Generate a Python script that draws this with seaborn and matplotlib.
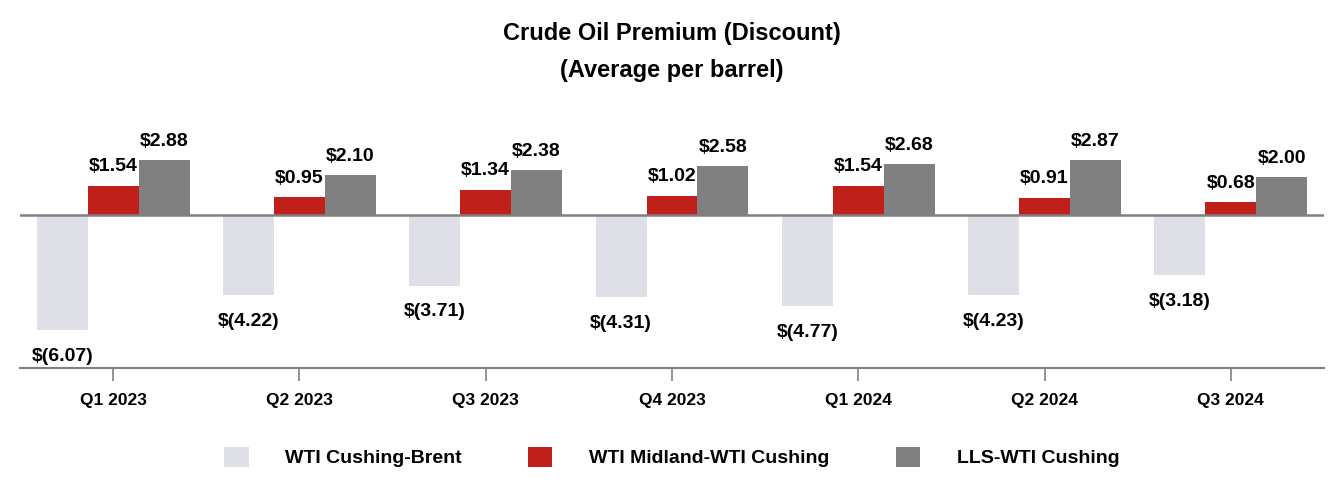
import matplotlib
matplotlib.use("Agg")
import matplotlib.pyplot as plt
import seaborn as sns
import pandas as pd
from matplotlib.patches import Patch

quarters = ["Q1 2023", "Q2 2023", "Q3 2023", "Q4 2023", "Q1 2024", "Q2 2024", "Q3 2024"]
series = ["WTI Cushing-Brent", "WTI Midland-WTI Cushing", "LLS-WTI Cushing"]
cushing_brent = [-6.07, -4.22, -3.71, -4.31, -4.77, -4.23, -3.18]
midland_cushing = [1.54, 0.95, 1.34, 1.02, 1.54, 0.91, 0.68]
lls_cushing = [2.88, 2.10, 2.38, 2.58, 2.68, 2.87, 2.00]
colors = ["#DFE0E7", "#C0201A", "#808080"]

sns.set_theme(style="white")
plt.rcParams["font.family"] = ["Liberation Sans", "DejaVu Sans"]
plt.rcParams["text.color"] = "black"
plt.rcParams["xtick.color"] = "black"

df = pd.DataFrame({
    "quarter": quarters * 3,
    "series": [series[0]] * 7 + [series[1]] * 7 + [series[2]] * 7,
    "value": cushing_brent + midland_cushing + lls_cushing,
})

fig = plt.figure(figsize=(13.44, 5.0), dpi=100)
ax = fig.add_axes([20 / 1344, 1 - 368 / 500, 1304 / 1344, (368 - 100) / 500])

sns.barplot(data=df, x="quarter", y="value", hue="series", hue_order=series,
            palette=colors, width=0.82, saturation=1, ax=ax, legend=False,
            edgecolor="none", linewidth=0)

ax.set_xlim(-0.5, 6.5)
ax.set_ylim(-8.05, 6.05)
ax.axhline(0, color="#808080", lw=1.8, zorder=1)

for c in ax.containers:
    for bar in c:
        v = bar.get_height()
        x = bar.get_x() + bar.get_width() / 2
        if v >= 0:
            ax.annotate(f"${v:.2f}", (x, v), xytext=(0, 13.5), textcoords="offset points",
                        ha="center", va="center", fontsize=14, fontweight="bold", color="black")
        else:
            ax.annotate(f"$({abs(v):.2f})", (x, v), xytext=(0, -19), textcoords="offset points",
                        ha="center", va="center", fontsize=14, fontweight="bold", color="black")

for s in ["top", "right", "left"]:
    ax.spines[s].set_visible(False)
ax.spines["bottom"].set_color("#808080")
ax.spines["bottom"].set_linewidth(1.5)
ax.set_yticks([])
ax.set_xlabel("")
ax.set_ylabel("")
ax.tick_params(axis="x", bottom=True, length=9, width=1.2, color="#808080", pad=9,
               labelsize=12.5, labelcolor="black")
for t in ax.get_xticklabels():
    t.set_fontweight("bold")

fig.text(0.5, 1 - 33 / 500, "Crude Oil Premium (Discount)", ha="center", va="center",
         fontsize=17, fontweight="bold", color="black")
fig.text(0.5, 1 - 70 / 500, "(Average per barrel)", ha="center", va="center",
         fontsize=17, fontweight="bold", color="black")

handles = [Patch(facecolor=col, edgecolor="none", label=lab) for col, lab in zip(colors, series)]
leg = fig.legend(handles=handles, loc="center", bbox_to_anchor=(0.5, 1 - 457 / 500), ncol=3,
                 frameon=False, prop={"size": 14, "weight": "bold"}, handlelength=1.25,
                 handleheight=1.25, handletextpad=1.9, columnspacing=3.4)
for t in leg.get_texts():
    t.set_color("black")

fig.savefig("out.png", dpi=100)
